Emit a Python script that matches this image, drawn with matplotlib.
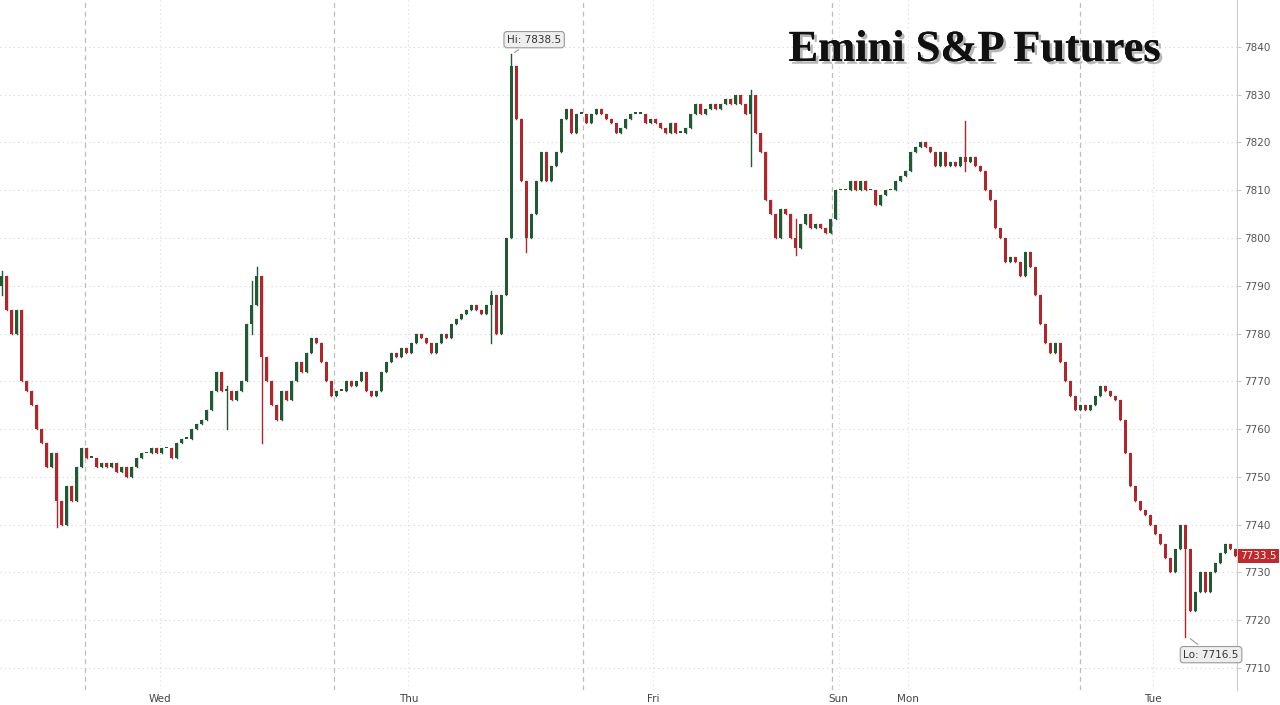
import matplotlib
matplotlib.use("Agg")
import matplotlib.pyplot as plt
import matplotlib.patheffects as pe

# closes sampled every 5 px-units of time
closes = [7792,7785,7780,7785,7770,7768,7765,7760,7757,7752,7755,7745,7740,7748,7745,7752,7756,7754,7754,7752,
 7753,7752,7753,7751,7752,7750,7752,7754,7755,7755,7756,7755,7756,7756,7754,7757,7758,7758,7760,7761,
 7762,7764,7768,7772,7768,7768,7766,7768,7770,7782,7786,7792,7775,7770,7765,7762,7768,7766,7770,7774,
 7772,7776,7779,7778,7774,7770,7767,7768,7768,7770,7769,7770,7772,7768,7767,7768,7772,7774,7776,7775,
 7777,7776,7778,7780,7779,7778,7776,7778,7780,7779,7782,7783,7784,7785,7786,7785,7784,7786,7788,7780,
 7788,7800,7836,7825,7812,7800,7805,7812,7818,7812,7815,7818,7825,7827,7822,7826,7826,7824,7826,7827,
 7826,7825,7824,7822,7823,7825,7826,7826,7826,7824,7825,7824,7823,7822,7824,7822,7822,7823,7826,7828,
 7826,7827,7828,7827,7828,7829,7828,7830,7828,7826,7830,7822,7818,7808,7805,7800,7806,7805,7800,7798,
 7803,7805,7802,7803,7802,7801,7804,7810,7810,7810,7812,7810,7812,7810,7810,7807,7809,7810,7810,7812,
 7813,7814,7818,7819,7820,7819,7818,7815,7818,7815,7816,7815,7817,7816,7817,7815,7814,7810,7808,7802,
 7800,7795,7796,7795,7792,7797,7794,7788,7782,7778,7776,7778,7774,7770,7767,7764,7765,7764,7765,7767,
 7769,7768,7767,7766,7762,7755,7748,7745,7743,7742,7740,7738,7736,7733,7730,7735,7740,7735,7722,7726,
 7730,7726,7730,7732,7734,7736,7735,7733.5]
first_open = 7790
# extra wick extremes: index -> (high, low)
wicks = {0: (7793, 7788), 11: (7750, 7739.5), 45: (7769, 7760), 50: (7791, 7780), 51: (7794, 7786),
         52: (7785, 7757), 98: (7789, 7778), 102: (7838.5, 7815), 105: (7806, 7797),
         150: (7831, 7815), 159: (7804, 7796.5), 193: (7824.5, 7814), 237: (7736, 7716.5)}
day_labels = ["Wed", "Thu", "Fri", "Sun", "Mon", "Tue"]
day_label_x = [158, 407, 652, 838, 907, 1153]
session_x = [83, 333, 582, 831, 1080]
yticks = list(range(7710, 7850, 10))

UP, DN = "#1f5a32", "#b0262b"
fig = plt.figure(figsize=(12.8, 7.05), dpi=100)
ax = fig.add_axes([0, 15/705, 1237/1280, 690/705])
ax.set_xlim(-2, 1237)
ax.set_ylim(7705.4, 7849.8)

for y in yticks:
    ax.axhline(y, color="#d5d5d5", lw=0.8, ls=(0, (1, 3)), zorder=0)
for x in day_label_x:
    ax.axvline(x, color="#dcdcdc", lw=0.8, ls=(0, (1, 3)), zorder=0)
for x in session_x:
    ax.axvline(x, color="#bdbdbd", lw=0.9, ls=(0, (4, 3)), zorder=0)

prev = first_open
for i, c in enumerate(closes):
    x = i * 5
    o = prev
    col = UP if c >= o else DN
    hi, lo = max(o, c), min(o, c)
    if i in wicks:
        hi, lo = max(hi, wicks[i][0]), min(lo, wicks[i][1])
    ax.plot([x, x], [lo, hi], color=col, lw=1.0, zorder=2)
    b0, b1 = min(o, c), max(o, c)
    if b1 - b0 < 0.3:
        b1 = b0 + 0.3
    ax.add_patch(plt.Rectangle((x - 1.5, b0), 3, b1 - b0, color=col, lw=0, zorder=3))
    prev = c

for s in ["top", "left", "bottom"]:
    ax.spines[s].set_visible(False)
ax.spines["right"].set_color("#cccccc")
ax.yaxis.tick_right()
ax.set_yticks(yticks)
ax.tick_params(axis="y", length=3, color="#cccccc", labelsize=7.5, labelcolor="#555555", pad=2)
ax.set_xticks(day_label_x)
ax.set_xticklabels(day_labels)
ax.tick_params(axis="x", length=0, labelsize=7.5, labelcolor="#444444", pad=3)

ax.annotate("Hi: 7838.5", xy=(511, 7838.5), xytext=(533, 7841.5), fontsize=7.5, color="#333333",
            ha="center", va="center",
            bbox=dict(boxstyle="round,pad=0.3", fc="#eeeeee", ec="#999999", lw=0.8),
            arrowprops=dict(arrowstyle="-", color="#999999", lw=0.8))
ax.annotate("Lo: 7716.5", xy=(1188, 7716.5), xytext=(1211, 7712.8), fontsize=7.5, color="#333333",
            ha="center", va="center",
            bbox=dict(boxstyle="round,pad=0.3", fc="#eeeeee", ec="#999999", lw=0.8),
            arrowprops=dict(arrowstyle="-", color="#999999", lw=0.8))
ax.text(1240, closes[-1], f"{closes[-1]}", fontsize=7.5, color="white", ha="left", va="center",
        clip_on=False, bbox=dict(boxstyle="square,pad=0.2", fc="#c0282d", ec="none"))

fig.text(975/1280, 1 - 50/705, "Emini S&P Futures", fontsize=32, fontweight="bold",
         family="Liberation Serif", ha="center", va="center", color="#111111",
         path_effects=[pe.withSimplePatchShadow(offset=(2, -2), shadow_rgbFace="#888888", alpha=0.6), pe.Normal()])

fig.savefig("out.png", dpi=100, facecolor="white")
